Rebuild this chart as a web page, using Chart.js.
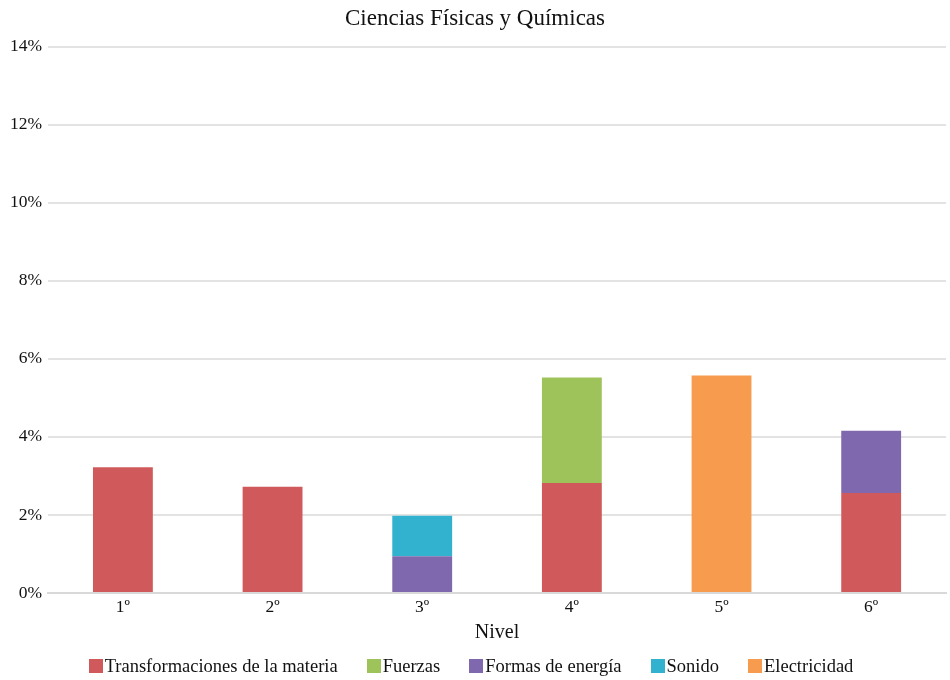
<!DOCTYPE html>
<html>
<head>
<meta charset="utf-8">
<script src="https://cdn.jsdelivr.net/npm/chart.js@4/dist/chart.umd.min.js"></script>
<style>
  html, body { margin: 0; padding: 0; background: #fff; }
  #wrap { position: relative; width: 950px; height: 680px; }
  #legend {
    position: absolute; left: 0; top: 654px; width: 942px; height: 24px; padding-right: 8px;
    display: flex; justify-content: center; align-items: center;
    font-family: 'Liberation Serif', 'DejaVu Serif', serif; font-size: 18.5px; color: #111;
  }
  #legend .item { display: flex; align-items: center; margin: 0 14.5px; white-space: nowrap; }
  #legend .box { width: 14px; height: 14px; margin-right: 2px; }
</style>
</head>
<body>
<div id="wrap">
  <canvas id="c" width="950" height="680"></canvas>
  <div id="legend"></div>
</div>
<script>
// Grades (Nivel) along the x axis
const niveles = ['1º', '2º', '3º', '4º', '5º', '6º'];

// Share of curriculum content per topic, in percent
const transformaciones = [3.22, 2.72, null, 2.82, null, 2.56];
const fuerzas          = [null, null, null, 2.70, null, null];
const formasEnergia    = [null, null, 0.94, null, null, 1.60];
const sonido           = [null, null, 1.04, null, null, null];
const electricidad     = [null, null, null, null, 5.57, null];

const yTicks = [0, 2, 4, 6, 8, 10, 12, 14];

const serif = "'Liberation Serif', 'DejaVu Serif', serif";

function ds(label, data, color) {
  return {
    label, data,
    backgroundColor: color,
    borderWidth: 0,
    barPercentage: 0.8,
    categoryPercentage: 0.5
  };
}

const chart = new Chart(document.getElementById('c'), {
  type: 'bar',
  data: {
    labels: niveles,
    datasets: [
      ds('Transformaciones de la materia', transformaciones, '#D05A5B'),
      ds('Fuerzas', fuerzas, '#9FC35B'),
      ds('Formas de energía', formasEnergia, '#8068AE'),
      ds('Sonido', sonido, '#32B2CF'),
      ds('Electricidad', electricidad, '#F79C4E')
    ]
  },
  options: {
    responsive: false,
    animation: false,
    layout: { padding: { left: 4, right: 4, top: 0, bottom: 35 } },
    plugins: {
      title: {
        display: true,
        text: 'Ciencias Físicas y Químicas',
        color: '#111',
        font: { family: serif, size: 23, weight: 'normal' },
        padding: { top: 5, bottom: 14 }
      },
      legend: { display: false },
      tooltip: { enabled: false }
    },
    scales: {
      x: {
        stacked: true,
        grid: { display: false },
        border: { color: '#D9D9D9', width: 2 },
        ticks: { color: '#111', font: { family: serif, size: 17.5 }, padding: -4 },
        title: {
          display: true,
          text: 'Nivel',
          color: '#111',
          font: { family: serif, size: 20 },
          padding: { top: 7, bottom: 0 }
        }
      },
      y: {
        stacked: true,
        min: 0,
        max: 14,
        afterBuildTicks: axis => { axis.ticks = yTicks.map(v => ({ value: v })); },
        grid: { color: '#E3E3E3', lineWidth: 2, drawTicks: false },
        border: { display: false },
        ticks: {
          color: '#111',
          font: { family: serif, size: 17.5 },
          padding: 6,
          callback: v => v + '%'
        }
      }
    }
  }
});

// Legend built from the chart's own datasets
const legendEl = document.getElementById('legend');
chart.data.datasets.forEach(d => {
  const item = document.createElement('div');
  item.className = 'item';
  const box = document.createElement('span');
  box.className = 'box';
  box.style.background = d.backgroundColor;
  const txt = document.createElement('span');
  txt.textContent = d.label;
  item.appendChild(box);
  item.appendChild(txt);
  legendEl.appendChild(item);
});
</script>
</body>
</html>
